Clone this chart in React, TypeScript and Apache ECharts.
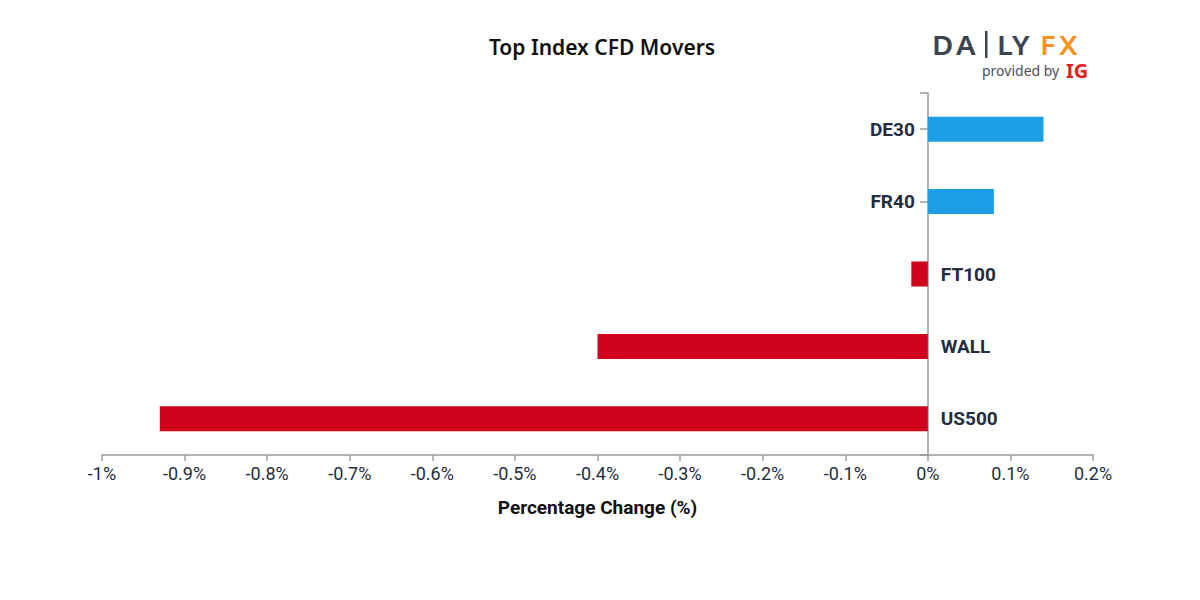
import React, { useEffect, useRef } from "react";
import * as echarts from "echarts";

const categories = ["DE30", "FR40", "FT100", "WALL", "US500"];
const values = [0.14, 0.08, -0.02, -0.4, -0.93];
const xMin = -1;
const xMax = 0.2;
const xStep = 0.1;
const titleText = "Top Index CFD Movers";
const axisTitle = "Percentage Change (%)";

const POS = "#1d9de4";
const NEG = "#d0021b";
const TXT = "#232d40";
const AXIS = "#9a9a9a";

export default function App() {
  const ref = useRef<HTMLDivElement>(null);
  useEffect(() => {
    if (!ref.current) return;
    const chart = echarts.init(ref.current, null, { renderer: "svg" });
    const logoLetters = [
      { t: "D", x: 932, c: "#3d4451" },
      { t: "A", x: 956, c: "#3d4451" },
      { t: "L", x: 997, c: "#3d4451" },
      { t: "Y", x: 1012, c: "#3d4451" },
      { t: "F", x: 1040, c: "#f7921e" },
      { t: "X", x: 1059, c: "#f7921e" },
    ];
    chart.setOption({
      animation: false,
      backgroundColor: "#ffffff",
      title: {
        text: titleText,
        left: 597,
        top: 31,
        textAlign: "center",
        textStyle: {
          fontFamily: "Noto Sans",
          fontWeight: 600,
          fontSize: 21,
          color: "#111111",
        },
      },
      graphic: [
        ...logoLetters.map((l) => ({
          type: "text",
          x: l.x,
          y: 31,
          scaleX: 1.08,
          style: {
            text: l.t,
            fill: l.c,
            font: "600 27px 'Noto Sans'",
            textAlign: "left",
            textVerticalAlign: "top",
          },
        })),
        {
          type: "rect",
          left: 985,
          top: 31,
          shape: { width: 2.5, height: 27 },
          style: { fill: "#3d4451" },
        },
        {
          type: "text",
          left: 982,
          top: 63,
          style: {
            text: "provided by",
            fill: "#4a4f5a",
            font: "14px 'Noto Sans'",
          },
        },
        {
          type: "text",
          left: 1066,
          top: 60,
          style: {
            text: "IG",
            fill: "#e2211c",
            font: "bold 20px 'Noto Sans'",
          },
        },
      ],
      grid: { left: 102, right: 107, top: 93, bottom: 145, containLabel: false },
      xAxis: {
        type: "value",
        min: xMin,
        max: xMax,
        interval: xStep,
        splitLine: { show: false },
        axisLine: { show: true, lineStyle: { color: AXIS, width: 1.5 } },
        axisTick: { show: true, length: 6, lineStyle: { color: AXIS, width: 1.5 } },
        axisLabel: {
          margin: 9,
          fontFamily: "Roboto",
          fontSize: 18,
          color: TXT,
          formatter: (v: number) => `${Math.round(v * 10) / 10}%`,
        },
        name: axisTitle,
        nameLocation: "middle",
        nameGap: 43,
        nameTextStyle: {
          fontFamily: "Roboto",
          fontWeight: "bold",
          fontSize: 19,
          color: "#111111",
        },
      },
      yAxis: [
        {
          type: "category",
          data: categories,
          inverse: true,
          position: "left",
          axisLine: { onZero: false, show: false },
          axisTick: { show: true, alignWithLabel: true, length: 8, lineStyle: { color: AXIS, width: 1.5 } },
          axisLabel: { show: false },
          splitLine: { show: false },
          offset: -826,
        },
        {
          type: "value",
          min: 0,
          max: 1,
          interval: 1,
          position: "left",
          offset: -826,
          axisLine: { show: true, lineStyle: { color: AXIS, width: 1.5 } },
          axisTick: { show: true, length: 8, lineStyle: { color: AXIS, width: 1.5 } },
          axisLabel: { show: false },
          splitLine: { show: false },
        },
      ],
      series: [
        {
          type: "bar",
          yAxisIndex: 0,
          barWidth: 25,
          data: values.map((v) => ({
            value: v,
            itemStyle: { color: v >= 0 ? POS : NEG },
          })),
        },
        {
          type: "scatter",
          yAxisIndex: 0,
          symbolSize: 0,
          silent: true,
          data: categories.map((c, i) => ({
            value: [0, c],
            label: {
              show: true,
              position: values[i] >= 0 ? "left" : "right",
              distance: 13,
              formatter: c,
              fontFamily: "Roboto",
              fontWeight: "bold",
              fontSize: 19,
              color: TXT,
              opacity: 1,
            },
          })),
        },
      ],
    });
    return () => chart.dispose();
  }, []);
  return (
    <div
      ref={ref}
      style={{ position: "absolute", left: 0, top: 0, width: 1200, height: 600 }}
    />
  );
}
